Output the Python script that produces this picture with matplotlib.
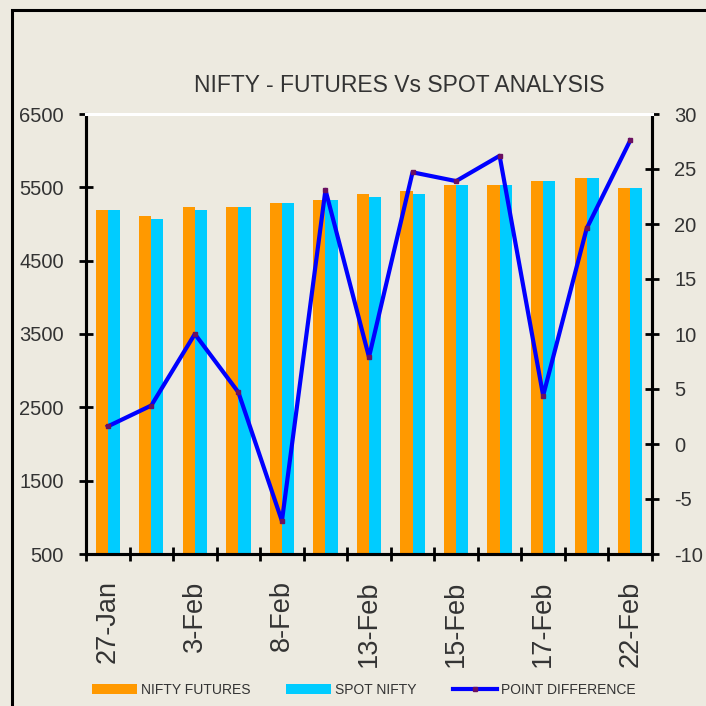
import numpy as np
import matplotlib.pyplot as plt
from matplotlib.patches import Rectangle

dates = ['27-Jan', '1-Feb', '3-Feb', '7-Feb', '8-Feb', '10-Feb', '13-Feb',
         '14-Feb', '15-Feb', '16-Feb', '17-Feb', '21-Feb', '22-Feb']
futures = [5191, 5109, 5232, 5232, 5286, 5327, 5409, 5450, 5532, 5532, 5586, 5627, 5491]
spot = [5191, 5068, 5191, 5232, 5286, 5327, 5368, 5409, 5532, 5532, 5586, 5627, 5491]
diff = [1.6, 3.5, 10.0, 4.7, -7.0, 23.1, 7.9, 24.7, 23.9, 26.2, 4.4, 19.6, 27.6]

bg = '#EDEAE0'
txt = '#333333'
plt.rcParams['font.family'] = ['Liberation Sans', 'DejaVu Sans']
plt.rcParams['axes.unicode_minus'] = False

fig = plt.figure(figsize=(7.06, 7.06), dpi=100, facecolor=bg)
ax = fig.add_axes([86 / 706, 1 - 554 / 706, 566 / 706, 440 / 706], facecolor=bg)
x = np.arange(len(dates))
w = 0.28
b1 = ax.bar(x - w / 2, futures, w, color='#FF9900', label='NIFTY FUTURES', zorder=2)
b2 = ax.bar(x + w / 2, spot, w, color='#00CCFF', label='SPOT NIFTY', zorder=2)
ax.set_ylim(500, 6500)
ax.set_yticks(np.arange(500, 6501, 1000))
ax.set_xlim(-0.5, len(dates) - 0.5)

ax2 = ax.twinx()
l1, = ax2.plot(x, diff, color='#0000FF', lw=3, marker='s', markersize=3.5,
               markerfacecolor='#6B1060', markeredgecolor='#6B1060',
               label='POINT DIFFERENCE', zorder=3)
ax2.set_ylim(-10, 30)
ax2.set_yticks(np.arange(-10, 31, 5))

# category labels every other group, boundary ticks between groups
ax.set_xticks(x[::2])
ax.set_xticklabels(dates[::2], rotation=90, fontsize=19.5, color=txt)
ax.set_xticks(np.arange(-0.5, len(dates), 1), minor=True)
ax.tick_params(axis='x', which='major', length=0, pad=19)
ax.tick_params(axis='x', which='minor', direction='inout', length=10, width=2)

for a in (ax, ax2):
    for s in ('left', 'right', 'bottom'):
        a.spines[s].set_linewidth(2.2)
        a.spines[s].set_color('black')
    a.spines['top'].set_color('white')
    a.spines['top'].set_linewidth(2.2)
    a.tick_params(axis='y', direction='inout', length=10, width=2, pad=11,
                  labelsize=14.5, labelcolor=txt)

fig.text(399 / 706, 1 - 85 / 706, 'NIFTY - FUTURES Vs SPOT ANALYSIS',
         ha='center', va='center', fontsize=16.5, color=txt)

fig.legend(handles=[b1, b2, l1], loc='center', ncol=3,
           bbox_to_anchor=(364 / 706, 1 - 690 / 706), frameon=False,
           prop={'size': 10}, labelcolor=txt,
           handlelength=3.2, handleheight=0.8, handletextpad=0.3, columnspacing=2.6)

fig.add_artist(Rectangle((12 / 706, -0.1), 1.2, 1.1 - 10 / 706, transform=fig.transFigure,
                         fill=False, lw=2.2, edgecolor='black'))

plt.savefig('out.png', dpi=100, facecolor=bg)
plt.close()
